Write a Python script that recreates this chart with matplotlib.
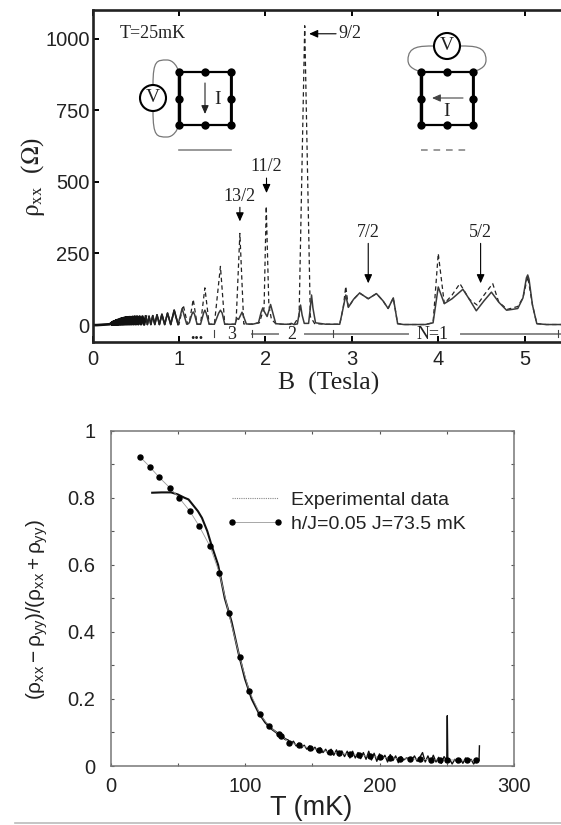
# coding: utf-8

import matplotlib
matplotlib.use("Agg")
import matplotlib.pyplot as plt
from matplotlib.patches import Circle, PathPatch
from matplotlib.path import Path

plt.rcParams["font.family"] = ["Liberation Sans", "DejaVu Sans"]
plt.rcParams["mathtext.fontset"] = "custom"
plt.rcParams["mathtext.rm"] = "Liberation Sans"
plt.rcParams["mathtext.it"] = "Liberation Sans"
plt.rcParams["mathtext.bf"] = "Liberation Sans"

# upper panel
low_b = [0, .05, .10, .15, .20,
         .222, .224, .227, .229, .232, .235, .238, .240, .243, .246, .249, .252,
         .255, .258, .262, .265, .268, .272, .275, .279, .283, .287, .291, .295,
         .299, .303, .308, .313, .318, .323, .328, .333, .339, .345, .350, .356,
         .363, .369, .376, .383, .391, .399, .407, .416, .425, .434, .444, .454,
         .465, .477, .489, .502, .515, .530, .545, .561, .578, .597, .617, .635,
         .654, .675, .697, .721, .746, .774, .803, .835, .868, .905, .945, .990]
low_r = [0, 0, 1, 2, 3,
         8, 2, 9, 2, 10, 2, 11, 2, 12, 3, 12, 3,
         13, 3, 14, 3, 15, 3, 16, 3, 17, 3, 18, 3,
         18, 3, 19, 3, 21, 3, 22, 3, 23, 3, 24, 3,
         25, 3, 26, 3, 27, 3, 27, 3, 28, 3, 28, 3,
         29, 3, 30, 3, 30, 3, 30, 3, 30, 2, 30, 2,
         31, 2, 33, 2, 36, 2, 38, 2, 42, 2, 52, 2]

solid_b = [1.037, 1.09, 1.12, 1.15, 1.165, 1.18, 1.21, 1.25, 1.285, 1.30, 1.315, 1.35,
           1.41, 1.46, 1.48, 1.50, 1.53,
           1.60, 1.65, 1.67, 1.69, 1.73, 1.78, 1.85, 1.92, 1.95, 1.97, 1.99, 2.02,
           2.04, 2.06, 2.08, 2.12,
           2.20, 2.27, 2.30, 2.33, 2.37, 2.39, 2.407, 2.425, 2.45, 2.50, 2.52, 2.534,
           2.55, 2.58, 2.70,
           2.86, 2.90, 2.93, 2.96, 3.02, 3.09, 3.19, 3.285, 3.36, 3.42, 3.48, 3.53,
           3.60, 3.85, 3.94, 4.00, 4.07, 4.16, 4.285, 4.36, 4.44, 4.53, 4.615, 4.70,
           4.79, 4.86, 4.92, 4.98, 5.02, 5.035, 5.05, 5.09, 5.14, 5.25, 5.42]
solid_r = [58, 3, 8, 38, 46, 38, 3, 3, 42, 52, 42, 3,
           3, 42, 52, 42, 3,
           3, 3, 24, 20, 45, 4, 3, 8, 44, 60, 46, 30,
           50, 72, 50, 5,
           3, 3, 6, 2, 4, 40, 70, 35, 6, 6, 60, 105,
           60, 8, 3,
           3, 60, 105, 62, 90, 112, 92, 110, 85, 58, 95, 5,
           2, 2, 8, 133, 75, 92, 125, 90, 50, 85, 115, 80,
           52, 55, 58, 95, 165, 175, 160, 70, 5, 2, 2]

dash_b = [1.00, 1.05, 1.10, 1.12, 1.165, 1.21, 1.25, 1.30, 1.35, 1.41, 1.48, 1.53,
          1.62, 1.66, 1.705, 1.75, 1.82, 1.93, 1.985, 2.01, 2.04, 2.07, 2.12,
          2.20, 2.33, 2.39, 2.455, 2.52, 2.57, 2.70,
          2.86, 2.90, 2.93, 2.96, 3.02, 3.09, 3.19, 3.285, 3.36, 3.42, 3.48, 3.53,
          3.60, 3.85, 3.94, 4.00, 4.07, 4.16, 4.25, 4.36, 4.45, 4.53, 4.63, 4.70,
          4.80, 4.86, 4.92, 4.98, 5.035, 5.09, 5.14, 5.25, 5.42]
dash_r = [2, 70, 3, 8, 90, 3, 3, 130, 3, 3, 205, 3,
          3, 3, 320, 4, 3, 8, 60, 415, 70, 20, 5,
          3, 2, 30, 1045, 30, 5, 3,
          3, 60, 135, 62, 90, 112, 92, 110, 85, 58, 95, 5,
          2, 2, 8, 250, 75, 105, 145, 90, 70, 105, 145, 80,
          55, 60, 65, 95, 170, 70, 5, 2, 2]

# label, tip B, tip rho, text B, text rho
peak_notes = [("13/2", 1.705, 362, 1.705, 421),
              ("11/2", 2.013, 461, 2.013, 523),
              ("7/2", 3.19, 146, 3.19, 295),
              ("5/2", 4.49, 146, 4.49, 295)]
b_ticks = [0, 1, 2, 3, 4, 5]
rho_ticks = [0, 250, 500, 750, 1000]

# lower panel
model_t = [22, 29, 36, 44, 51, 59, 66, 74, 81, 88, 96, 103, 111, 118, 125, 127, 133,
           140, 148, 155, 163, 170, 178, 185, 193, 200, 208, 215, 223, 230, 238,
           245, 250, 258, 265, 272]
model_v = [.922, .893, .862, .830, .800, .760, .715, .655, .575, .455, .325, .225,
           .155, .118, .095, .090, .070, .062, .054, .048, .042, .038, .035, .032,
           .029, .026, .024, .022, .021, .020, .019, .018, .018, .018, .017, .017]

exp_t = [31, 38, 45, 50, 55, 58, 62, 65, 68, 72, 75, 80, 85, 90, 95, 100, 105, 110,
         115, 120, 125, 130]
exp_v = [.815, .816, .816, .810, .800, .795, .775, .760, .740, .700, .660, .600, .500,
         .430, .340, .260, .200, .160, .130, .110, .095, .080]
tail_t = [130, 132, 134, 136, 138, 140, 142, 144, 146, 148, 150, 152, 154, 156, 158, 160,
          162, 164, 166, 168, 170, 172, 174, 176, 178, 180, 182, 184, 186, 188, 190,
          192, 194, 196, 198, 200, 202, 204, 206, 208, 210, 212, 214, 216, 218, 220,
          222, 224, 226, 228, 230, 232, 234, 236, 238, 240, 242, 244, 246, 248, 250,
          250.4, 250.8, 252, 254, 256, 258, 260, 262, 264, 266, 268, 270, 272, 274, 274.3]
tail_v = [.080, .078, .066, .074, .060, .068, .054, .062, .050, .060, .046, .056, .042, .054,
          .040, .050, .034, .050, .032, .048, .030, .045, .028, .044, .024, .044, .024,
          .040, .022, .040, .020, .044, .018, .038, .014, .036, .020, .032, .012, .034,
          .016, .030, .010, .028, .018, .024, .022, .018, .030, .014, .026, .040, .012,
          .030, .010, .032, .012, .026, .008, .028, .016, .150, .012, .022, .006, .020,
          .010, .022, .008, .024, .012, .020, .006, .018, .016, .060]
t_ticks = [0, 100, 200, 300]
t_minor = [50, 150, 250]
v_ticks = [0, .2, .4, .6, .8, 1]
v_labels = ["0", "0.2", "0.4", "0.6", "0.8", "1"]
v_minor = [.1, .3, .5, .7, .9]

W, H = 561, 825


def pane(left, top, right, bottom):
    return [left / W, 1 - bottom / H, (right - left) / W, (bottom - top) / H]


def draw_upper(ax):
    ax.plot(low_b + dash_b, low_r + dash_r, color="#222222", lw=0.9, dashes=(3.5, 2.6))
    ax.plot(low_b + solid_b, low_r + solid_r, color="#3a3a3a", lw=1.1)
    ax.plot(low_b[:64], low_r[:64], color="#111111", lw=1.9)
    ax.plot(low_b[63:], low_r[63:], color="#222222", lw=1.2)
    ax.set_xlim(0, 5.42)
    ax.set_ylim(-59, 1100)
    ax.set_xticks(b_ticks)
    ax.set_yticks(rho_ticks)
    ax.tick_params(direction="in", length=4, width=1.4, top=True, right=False,
                   labelsize=14.5, labelcolor="#222222")
    ax.tick_params(axis="x", pad=6)
    ax.tick_params(axis="y", pad=2)
    for s in ["left", "bottom", "top"]:
        ax.spines[s].set_linewidth(1.9)
        ax.spines[s].set_color("#222222")
    ax.spines["right"].set_visible(False)

    arrow = dict(arrowstyle="-|>,head_width=0.18,head_length=0.4", lw=0.8, color="black",
                 shrinkA=0, shrinkB=0)
    for name, tb, tr, xb, xr in peak_notes:
        ax.annotate(name, xy=(tb, tr), xytext=(xb, xr), ha="center", va="bottom",
                    fontsize=13, family="Liberation Serif", color="#222222", arrowprops=arrow)
    ax.annotate("9/2", xy=(2.506, 1017), xytext=(2.85, 1017), ha="left", va="center",
                fontsize=13, family="Liberation Serif", color="#222222", arrowprops=arrow)

    # filling factor bars along the bottom
    bars = [(1.85, 2.15), (2.455, 3.65), (4.26, 5.42)]
    for a, b in bars:
        ax.plot([a, b], [-30, -30], color="#888888", lw=1.4)
    for b in [1.40, 1.85, 2.78, 5.38]:
        ax.plot([b, b], [-42, -18], color="#444444", lw=0.8)
    for t, b in [("...", 1.21), ("3", 1.61), ("2", 2.31), ("N=1", 3.94)]:
        ax.text(b, -33, t, ha="center", va="center", fontsize=13, fontweight="bold" if t == "..." else "normal",
                family="Liberation Serif", color="#222222")


def draw_square(ov, x0, y0, x1, y1):
    xm = (x0 + x1) / 2
    ym = (y0 + y1) / 2
    ov.plot([x0, x1, x1, x0, x0], [y0, y0, y1, y1, y0], color="black", lw=1.6)
    ov.plot([x0, x0], [y0, y1], color="black", lw=2.4)
    ov.plot([x1, x1], [y0, y1], color="black", lw=2.0)
    xs = [x0, xm, x1, x0, x1, x0, xm, x1]
    ys = [y0, y0, y0, ym, ym, y1, y1, y1]
    ov.plot(xs, ys, "o", color="black", ms=6, mew=0)


def draw_wire(ov, verts):
    codes = [Path.MOVETO] + [Path.CURVE4] * (len(verts) - 1)
    ov.add_patch(PathPatch(Path(verts, codes), fc="none", ec="#777777", lw=0.9))


def draw_insets(ov):
    serif = dict(family="Liberation Serif", color="#222222", ha="center", va="center")
    ov.text(153, 34, "T=25mK", fontsize=13, **serif)

    # left contact sketch
    draw_wire(ov, [(153, 85), (153, 60), (157, 60), (167, 60), (173, 60), (177, 66), (179, 72)])
    draw_wire(ov, [(153, 111), (153, 137), (157, 137), (167, 137), (173, 137), (177, 131), (179, 125)])
    draw_square(ov, 179, 72, 231, 125)
    ov.add_patch(Circle((153, 98), 13, fc="white", ec="black", lw=1.5))
    ov.text(153, 98, "V", fontsize=14, **serif)
    ov.annotate("", xy=(205, 114), xytext=(205, 83),
                arrowprops=dict(arrowstyle="-|>,head_width=0.22,head_length=0.5", lw=0.8, color="#222222", shrinkA=0, shrinkB=0))
    ov.text(218, 99, "I", fontsize=14, **serif)
    ov.plot([179, 231], [150, 150], color="#888888", lw=1.2)

    # right contact sketch
    draw_wire(ov, [(434, 46), (420, 46), (408, 46), (408, 60), (408, 68), (416, 70), (421, 72)])
    draw_wire(ov, [(460, 46), (474, 46), (486, 46), (486, 60), (486, 68), (478, 70), (473, 72)])
    draw_square(ov, 421, 72, 473, 125)
    ov.add_patch(Circle((447, 46), 13, fc="white", ec="black", lw=1.5))
    ov.text(447, 46, "V", fontsize=14, **serif)
    ov.annotate("", xy=(432, 98), xytext=(463, 98),
                arrowprops=dict(arrowstyle="-|>,head_width=0.22,head_length=0.5", lw=0.8, color="#444444", shrinkA=0, shrinkB=0))
    ov.text(447, 112, "I", fontsize=14, **serif)
    ov.plot([421, 471], [150, 150], color="#888888", lw=1.2, dashes=(4, 3.5))

    # axis titles of both panels
    ov.text(329, 383, "B  (Tesla)", fontsize=18.5, **serif)
    ov.text(33, 177, r"$\mathrm{\rho}_{\mathrm{xx}}$  ($\mathrm{\Omega}$)", fontsize=18, rotation=90,
            math_fontfamily="stix", **serif)
    ov.text(311, 808, "T (mK)", fontsize=19.5, ha="center", va="center", color="#222222")
    ov.text(37, 610, r"$(\rho_{\mathrm{xx}}-\rho_{\mathrm{yy}})/(\rho_{\mathrm{xx}}+\rho_{\mathrm{yy}})$",
            fontsize=15, rotation=90, ha="center", va="center", color="#222222")

    # rule under the lower panel
    ov.plot([15, 561], [823, 823], color="#bbbbbb", lw=1.2)


def draw_lower(ax):
    ax.plot(exp_t, exp_v, color="#111111", lw=1.5, label="Experimental data")
    ax.plot(tail_t, tail_v, color="#111111", lw=1.0)
    ax.plot(model_t, model_v, "-o", color="#999999", mfc="black", mec="black", lw=0.6, ms=3.6,
            label="h/J=0.05 J=73.5 mK")
    ax.set_xlim(0, 300)
    ax.set_ylim(0, 1)
    ax.set_xticks(t_ticks)
    ax.set_yticks(v_ticks)
    ax.set_yticklabels(v_labels)
    ax.set_xticks(t_minor, minor=True)
    ax.set_yticks(v_minor, minor=True)
    ax.tick_params(which="both", direction="in", length=2.5, width=0.8, top=True, right=True,
                   color="#555555")
    ax.tick_params(labelsize=14.5, labelcolor="#222222")
    ax.tick_params(axis="x", pad=8)
    ax.tick_params(axis="y", pad=11)
    for s in ax.spines.values():
        s.set_linewidth(1.1)
        s.set_color("#777777")
    handles, labels = ax.get_legend_handles_labels()
    leg = ax.legend(handles, labels, frameon=False, numpoints=2, fontsize=14, handlelength=3.0,
                    handletextpad=0.36, labelspacing=0.35, loc="upper left",
                    bbox_to_anchor=(0.286, 0.82), borderaxespad=0, borderpad=0,
                    labelcolor="#222222")
    exp_key = leg.get_lines()[0]
    exp_key.set_linestyle((0, (1, 1)))
    exp_key.set_linewidth(0.8)
    exp_key.set_color("#888888")


fig = plt.figure(figsize=(W / 100, H / 100), dpi=100)
ax_top = fig.add_axes(pane(92.5, 10, 561, 342))
ax_bot = fig.add_axes(pane(110.5, 430.7, 514, 766))
ov = fig.add_axes([0, 0, 1, 1], zorder=5)
ov.set_xlim(0, W)
ov.set_ylim(H, 0)
ov.axis("off")
ov.patch.set_alpha(0)

draw_upper(ax_top)
draw_lower(ax_bot)
draw_insets(ov)

plt.savefig("out.png", dpi=100)
plt.close(fig)
